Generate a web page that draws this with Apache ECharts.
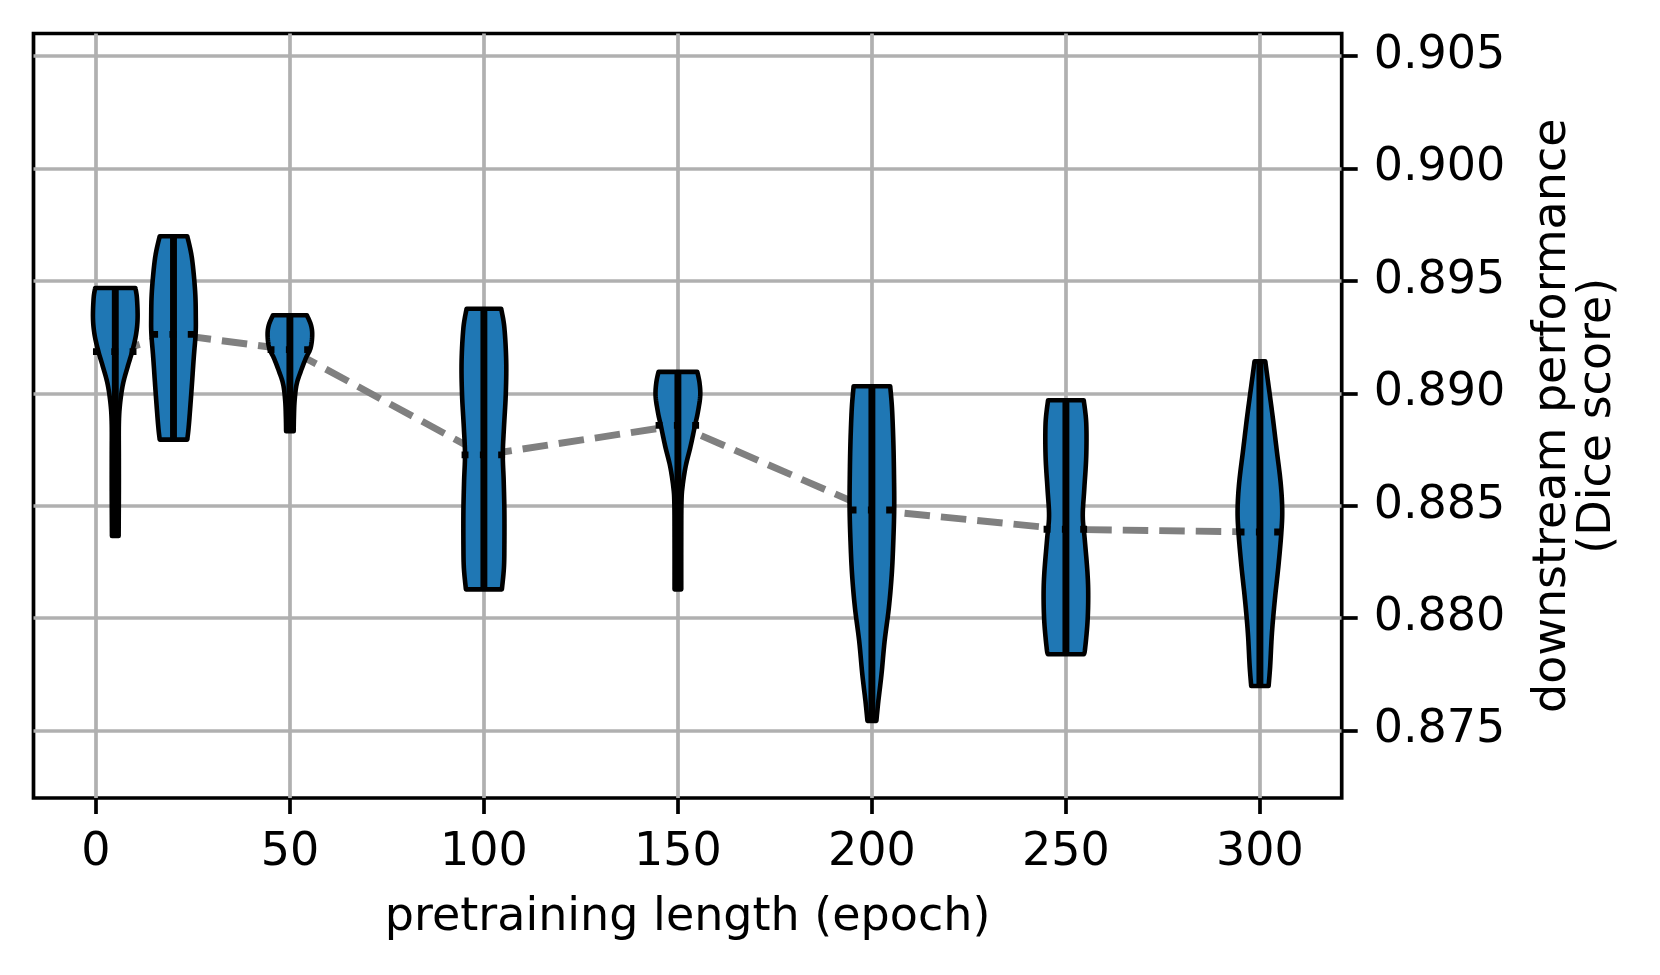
<!DOCTYPE html>
<html><head><meta charset="utf-8">
<script src="https://cdn.jsdelivr.net/npm/echarts@6/dist/echarts.min.js"></script>
<style>html,body{margin:0;padding:0;background:#fff}#c{width:1660px;height:975px}</style>
</head><body><div id="c"></div>
<script>
// ---- data ----
const positions = [5, 20, 50, 100, 150, 200, 250, 300];
const means = [0.89185, 0.89262, 0.89194, 0.88726, 0.88857, 0.88481, 0.88395, 0.88383];
const xTicks = [0, 50, 100, 150, 200, 250, 300];
const yTicks = [0.875, 0.880, 0.885, 0.890, 0.895, 0.900, 0.905];
// violin density profiles: [score, relative density width], from max to min
const violin5 = [[0.89468,0.90],[0.89424,0.97],[0.89335,1.0],[0.89261,0.93],[0.89187,0.76],[0.89113,0.54],[0.89039,0.34],[0.88950,0.21],[0.88861,0.16],[0.88713,0.16],[0.88565,0.16],[0.88365,0.15]];
const violin20 = [[0.89698,0.60],[0.89602,0.80],[0.89454,0.94],[0.89335,0.97],[0.89261,0.96],[0.89157,0.88],[0.89009,0.78],[0.88861,0.67],[0.88794,0.60]];
const violin50 = [[0.89347,0.76],[0.89305,0.94],[0.89261,1.0],[0.89202,0.93],[0.89157,0.72],[0.89098,0.49],[0.89039,0.30],[0.88965,0.21],[0.88891,0.18],[0.88831,0.17]];
const violin100 = [[0.89376,0.76],[0.89291,0.90],[0.89142,0.98],[0.88994,0.96],[0.88846,0.88],[0.88728,0.83],[0.88609,0.87],[0.88476,0.90],[0.88328,0.90],[0.88224,0.88],[0.88128,0.79]];
const violin150 = [[0.89095,0.87],[0.89046,0.97],[0.88987,1.0],[0.88913,0.89],[0.88854,0.76],[0.88765,0.57],[0.88676,0.35],[0.88587,0.21],[0.88513,0.16],[0.88335,0.15],[0.88128,0.15]];
const violin200 = [[0.89031,0.82],[0.88935,0.90],[0.88787,0.96],[0.88639,0.99],[0.88491,1.0],[0.88343,0.96],[0.88195,0.89],[0.88046,0.76],[0.87898,0.57],[0.87750,0.43],[0.87632,0.29],[0.87543,0.20]];
const violin250 = [[0.88969,0.72],[0.88868,0.82],[0.88720,0.82],[0.88572,0.74],[0.88454,0.68],[0.88350,0.76],[0.88202,0.87],[0.88098,0.90],[0.87980,0.87],[0.87861,0.77],[0.87839,0.72]];
const violin300 = [[0.89142,0.24],[0.89046,0.37],[0.88898,0.57],[0.88750,0.75],[0.88602,0.93],[0.88483,1.0],[0.88380,0.96],[0.88232,0.83],[0.88083,0.67],[0.87935,0.54],[0.87787,0.46],[0.87698,0.39]];
const profiles = [violin5, violin20, violin50, violin100, violin150, violin200, violin250, violin300];

// ---- style ----
const HALF_W = 5.75;          // half violin width in x units
const FONT = 'DejaVu Sans';
const FS = 46;

function catmull(pts, steps) {
  const out = [];
  for (let k = 0; k < pts.length - 1; k++) {
    const p0 = pts[Math.max(k - 1, 0)], p1 = pts[k], p2 = pts[k + 1], p3 = pts[Math.min(k + 2, pts.length - 1)];
    for (let s = 0; s < steps; s++) {
      const t = s / steps, t2 = t * t, t3 = t2 * t;
      const f = (a, b, c, d) => 0.5 * (2 * b + (-a + c) * t + (2 * a - 5 * b + 4 * c - d) * t2 + (-a + 3 * b - 3 * c + d) * t3);
      out.push([f(p0[0], p1[0], p2[0], p3[0]), f(p0[1], p1[1], p2[1], p3[1])]);
    }
  }
  out.push(pts[pts.length - 1]);
  return out;
}

function renderViolin(params, api) {
  const i = params.dataIndex;
  const pos = api.value(0);
  const mean = api.value(1);
  const prof = profiles[i];
  const mx = Math.max.apply(null, prof.map(d => d[1]));
  const right = catmull(prof.map(d => api.coord([pos + HALF_W * d[1] / mx, d[0]])), 8);
  const left = catmull(prof.map(d => api.coord([pos - HALF_W * d[1] / mx, d[0]])), 8).reverse();
  const top = api.coord([pos, prof[0][0]]);
  const bot = api.coord([pos, prof[prof.length - 1][0]]);
  const mL = api.coord([pos - HALF_W, mean]);
  const mR = api.coord([pos + HALF_W, mean]);
  return {
    type: 'group',
    children: [
      { type: 'polygon', shape: { points: right.concat(left) },
        style: { fill: '#1f77b4', stroke: '#000', lineWidth: 4.6, lineJoin: 'round' } },
      { type: 'line', shape: { x1: top[0], y1: top[1], x2: bot[0], y2: bot[1] },
        style: { stroke: '#000', lineWidth: 6.9 } },
      { type: 'line', shape: { x1: mL[0], y1: mL[1], x2: mR[0], y2: mR[1] },
        style: { stroke: '#000', lineWidth: 6.9, lineDash: [6.9, 11.4] } }
    ]
  };
}

const chart = echarts.init(document.getElementById('c'), null, { renderer: 'canvas' });
chart.setOption({
  animation: false,
  backgroundColor: '#fff',
  grid: { left: 33.5, right: 318.3, top: 33.5, bottom: 177, show: true,
          borderColor: '#000', borderWidth: 3.7, backgroundColor: 'transparent' },
  xAxis: {
    type: 'value', min: -16.08, max: 321.08, position: 'bottom',
    axisLine: { show: false, onZero: false },
    axisTick: { show: true, length: 16, customValues: xTicks, lineStyle: { color: '#000', width: 3.7 } },
    axisLabel: { customValues: xTicks, margin: 32, fontSize: FS, fontFamily: FONT, color: '#000' },
    splitLine: { show: true, lineStyle: { color: '#b0b0b0', width: 3.7 } },
    name: 'pretraining length (epoch)', nameLocation: 'middle', nameGap: 97,
    nameTextStyle: { fontSize: FS, fontFamily: FONT, color: '#000' }
  },
  yAxis: {
    type: 'value', min: 0.872, max: 0.906, position: 'right',
    axisLine: { show: false, onZero: false },
    axisTick: { show: true, length: 16, customValues: yTicks, lineStyle: { color: '#000', width: 3.7 } },
    axisLabel: { customValues: yTicks, margin: 32, fontSize: FS, fontFamily: FONT, color: '#000',
                 formatter: v => v.toFixed(3) },
    splitLine: { show: true, lineStyle: { color: '#b0b0b0', width: 3.7 } },
    name: 'downstream performance\n(Dice score)', nameLocation: 'middle', nameRotate: 90, nameGap: 189,
    nameTextStyle: { fontSize: FS, fontFamily: FONT, color: '#000', lineHeight: 45, align: 'center' }
  },
  series: [
    { type: 'line', z: 2, symbol: 'none', silent: true,
      data: positions.map((p, i) => [p, means[i]]),
      lineStyle: { color: '#808080', width: 6.9, type: [25.5, 11] } },
    { type: 'custom', z: 3, renderItem: renderViolin, silent: true,
      data: positions.map((p, i) => [p, means[i]]) }
  ]
});
</script></body></html>
